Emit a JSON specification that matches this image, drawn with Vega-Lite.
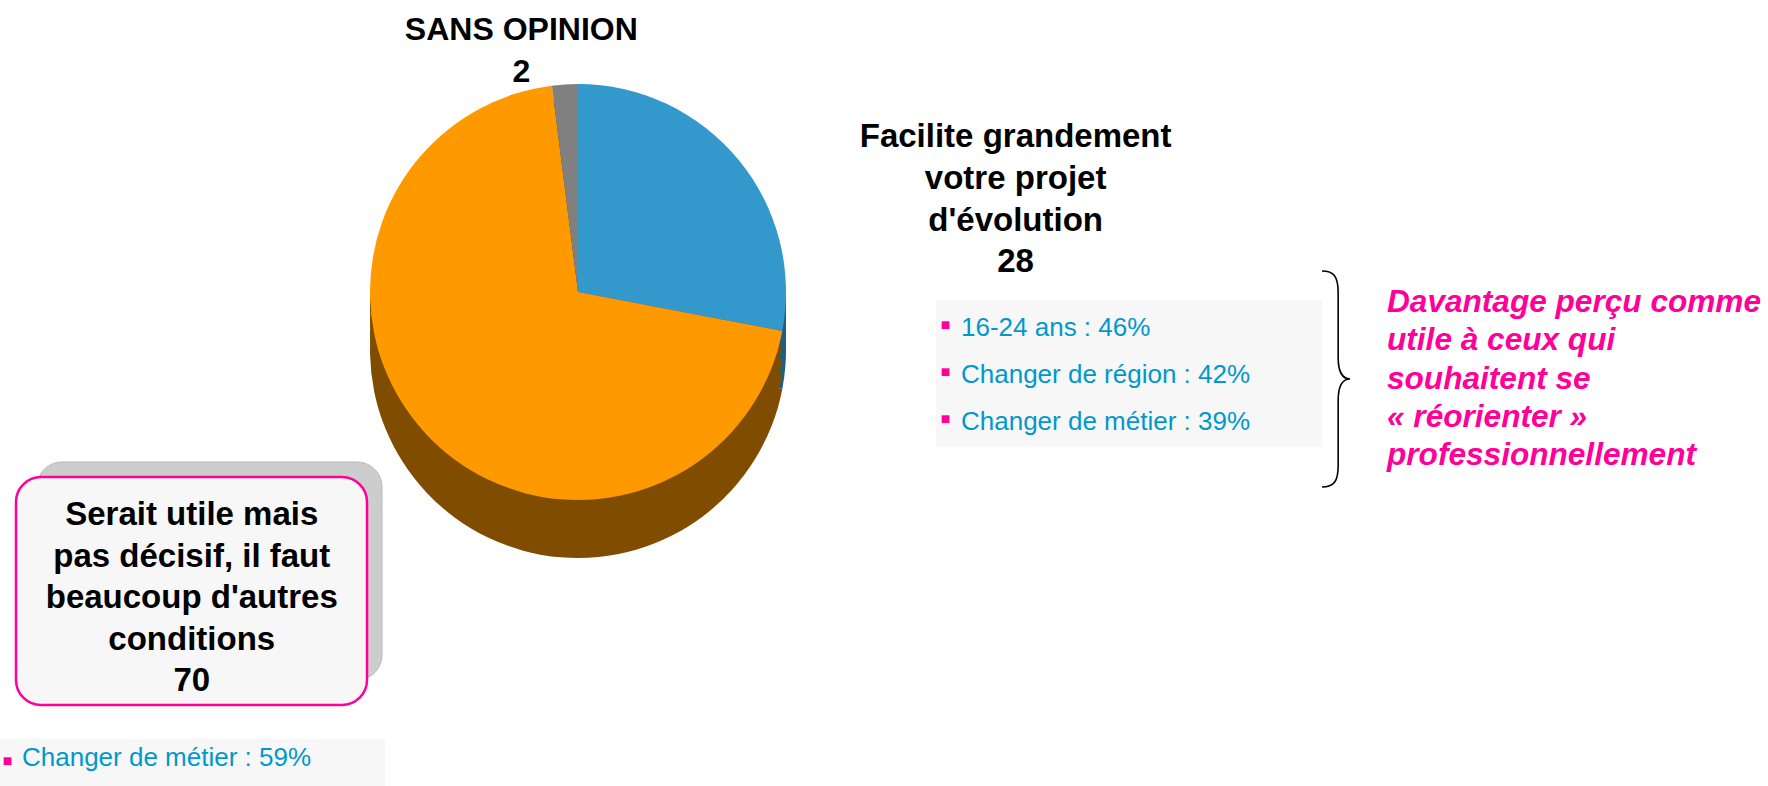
{
  "$schema": "https://vega.github.io/schema/vega-lite/v6.json",
  "width": 1156,
  "height": 584,
  "autosize": {"type": "none"},
  "padding": {"left": 0, "top": 0, "right": 612, "bottom": 202},
  "background": "white",
  "config": {"view": {"stroke": null}},
  "datasets": {
    "parts": [
      {"categorie": "Facilite grandement votre projet d'évolution", "libelle": "Facilite grandement\nvotre projet\nd'évolution", "valeur": 28, "ordre": 1},
      {"categorie": "Serait utile mais pas décisif, il faut beaucoup d'autres conditions", "libelle": "Serait utile mais\npas décisif, il faut\nbeaucoup d'autres\nconditions", "valeur": 70, "ordre": 2},
      {"categorie": "SANS OPINION", "libelle": "SANS OPINION", "valeur": 2, "ordre": 3}
    ]
  },
  "data": {"name": "parts"},
  "layer": [
    {
      "mark": {"type": "arc", "radius": 208, "yOffset": 58},
      "encoding": {
        "theta": {"field": "valeur", "type": "quantitative", "stack": true},
        "order": {"field": "ordre", "type": "quantitative"},
        "fill": {"field": "categorie", "type": "nominal", "legend": null,
          "scale": {"domain": ["Facilite grandement votre projet d'évolution", "Serait utile mais pas décisif, il faut beaucoup d'autres conditions", "SANS OPINION"], "range": ["#1E5F80", "#7F4C00", "#404040"]}}
      }
    },
    {
      "mark": {"type": "arc", "radius": 208, "yOffset": 43},
      "encoding": {
        "theta": {"field": "valeur", "type": "quantitative", "stack": true},
        "order": {"field": "ordre", "type": "quantitative"},
        "fill": {"field": "categorie", "type": "nominal", "legend": null}
      }
    },
    {
      "mark": {"type": "arc", "radius": 208, "yOffset": 29},
      "encoding": {
        "theta": {"field": "valeur", "type": "quantitative", "stack": true},
        "order": {"field": "ordre", "type": "quantitative"},
        "fill": {"field": "categorie", "type": "nominal", "legend": null}
      }
    },
    {
      "mark": {"type": "arc", "radius": 208, "yOffset": 14},
      "encoding": {
        "theta": {"field": "valeur", "type": "quantitative", "stack": true},
        "order": {"field": "ordre", "type": "quantitative"},
        "fill": {"field": "categorie", "type": "nominal", "legend": null}
      }
    },
    {
      "mark": {"type": "arc", "radius": 208},
      "encoding": {
        "theta": {"field": "valeur", "type": "quantitative", "stack": true},
        "order": {"field": "ordre", "type": "quantitative"},
        "color": {"field": "categorie", "type": "nominal", "legend": null,
          "scale": {"domain": ["Facilite grandement votre projet d'évolution", "Serait utile mais pas décisif, il faut beaucoup d'autres conditions", "SANS OPINION"], "range": ["#3399CC", "#FF9900", "#808080"]}}
      }
    },
    {
      "data": {"values": [{}]},
      "mark": {"type": "rect", "x": 37, "x2": 382, "y": 462, "y2": 680, "cornerRadius": 25, "fill": "#CDCDCD", "stroke": "#B8B8B8", "strokeWidth": 1}
    },
    {
      "data": {"values": [{}]},
      "mark": {"type": "rect", "x": 16, "x2": 367, "y": 477, "y2": 705, "cornerRadius": 25, "fill": "#F7F7F7", "stroke": "#FF0099", "strokeWidth": 2.5}
    },
    {
      "mark": {"type": "text", "radius": 250, "dx": 245, "dy": 14.5, "align": "center", "baseline": "alphabetic", "lineBreak": "\n", "lineHeight": 41.7, "font": "Liberation Sans", "fontSize": 33, "fontWeight": "bold", "color": "#000000"},
      "encoding": {
        "theta": {"field": "valeur", "type": "quantitative", "stack": true},
        "order": {"field": "ordre", "type": "quantitative"},
        "detail": {"field": "categorie", "type": "nominal"},
        "text": {"condition": {"test": "datum.ordre === 1", "field": "libelle"}, "value": ""}
      }
    },
    {
      "mark": {"type": "text", "radius": 250, "dx": 245, "dy": 139.5, "align": "center", "baseline": "alphabetic", "font": "Liberation Sans", "fontSize": 33, "fontWeight": "bold", "color": "#000000"},
      "encoding": {
        "theta": {"field": "valeur", "type": "quantitative", "stack": true},
        "order": {"field": "ordre", "type": "quantitative"},
        "detail": {"field": "categorie", "type": "nominal"},
        "text": {"condition": {"test": "datum.ordre === 1", "field": "valeur"}, "value": ""}
      }
    },
    {
      "mark": {"type": "text", "radius": 250, "dx": -204, "dy": 62, "align": "center", "baseline": "alphabetic", "lineBreak": "\n", "lineHeight": 41.5, "font": "Liberation Sans", "fontSize": 33, "fontWeight": "bold", "color": "#000000"},
      "encoding": {
        "theta": {"field": "valeur", "type": "quantitative", "stack": true},
        "order": {"field": "ordre", "type": "quantitative"},
        "detail": {"field": "categorie", "type": "nominal"},
        "text": {"condition": {"test": "datum.ordre === 2", "field": "libelle"}, "value": ""}
      }
    },
    {
      "mark": {"type": "text", "radius": 250, "dx": -204, "dy": 228, "align": "center", "baseline": "alphabetic", "font": "Liberation Sans", "fontSize": 33, "fontWeight": "bold", "color": "#000000"},
      "encoding": {
        "theta": {"field": "valeur", "type": "quantitative", "stack": true},
        "order": {"field": "ordre", "type": "quantitative"},
        "detail": {"field": "categorie", "type": "nominal"},
        "text": {"condition": {"test": "datum.ordre === 2", "field": "valeur"}, "value": ""}
      }
    },
    {
      "mark": {"type": "text", "radius": 250, "dx": -41, "dy": -2.5, "align": "center", "baseline": "alphabetic", "font": "Liberation Sans", "fontSize": 32, "fontWeight": "bold", "color": "#000000"},
      "encoding": {
        "theta": {"field": "valeur", "type": "quantitative", "stack": true},
        "order": {"field": "ordre", "type": "quantitative"},
        "detail": {"field": "categorie", "type": "nominal"},
        "text": {"condition": {"test": "datum.ordre === 3", "field": "libelle"}, "value": ""}
      }
    },
    {
      "mark": {"type": "text", "radius": 250, "dx": -41, "dy": 39.5, "align": "center", "baseline": "alphabetic", "font": "Liberation Sans", "fontSize": 32, "fontWeight": "bold", "color": "#000000"},
      "encoding": {
        "theta": {"field": "valeur", "type": "quantitative", "stack": true},
        "order": {"field": "ordre", "type": "quantitative"},
        "detail": {"field": "categorie", "type": "nominal"},
        "text": {"condition": {"test": "datum.ordre === 3", "field": "valeur"}, "value": ""}
      }
    },
    {
      "data": {"values": [{}]},
      "mark": {"type": "rect", "x": 936, "x2": 1322, "y": 300, "y2": 447, "fill": "#F7F7F7"}
    },
    {
      "data": {"values": [{}]},
      "mark": {"type": "rect", "x": 0, "x2": 385, "y": 739, "y2": 786, "fill": "#F7F7F7"}
    },
    {
      "data": {"values": [{"texte": "16-24 ans : 46%\nChanger de région : 42%\nChanger de métier : 39%"}]},
      "mark": {"type": "text", "x": 961, "y": 336, "align": "left", "baseline": "alphabetic", "lineBreak": "\n", "lineHeight": 47, "font": "Liberation Sans", "fontSize": 26, "color": "#0099CC"},
      "encoding": {"text": {"field": "texte", "type": "nominal"}}
    },
    {
      "data": {"values": [{"texte": "Changer de métier : 59%"}]},
      "mark": {"type": "text", "x": 22, "y": 766, "align": "left", "baseline": "alphabetic", "font": "Liberation Sans", "fontSize": 26, "color": "#0099CC"},
      "encoding": {"text": {"field": "texte", "type": "nominal"}}
    },
    {
      "data": {"values": [{"puce": "■\n■\n■"}]},
      "mark": {"type": "text", "x": 945.5, "y": 330, "align": "center", "baseline": "alphabetic", "lineBreak": "\n", "lineHeight": 47, "font": "Liberation Sans", "fontSize": 16, "color": "#FF0099"},
      "encoding": {"text": {"field": "puce", "type": "nominal"}}
    },
    {
      "data": {"values": [{"puce": "■"}]},
      "mark": {"type": "text", "x": 7.5, "y": 766, "align": "center", "baseline": "alphabetic", "font": "Liberation Sans", "fontSize": 16, "color": "#FF0099"},
      "encoding": {"text": {"field": "puce", "type": "nominal"}}
    },
    {
      "data": {"values": [{}]},
      "mark": {"type": "point", "x": 1336, "y": 379, "size": 46656, "filled": false, "stroke": "#000000", "strokeWidth": 1.6, "opacity": 1,
        "shape": "M -0.13 -1 C -0.02 -1 0.02 -0.95 0.02 -0.8 L 0.02 -0.2 C 0.02 -0.07 0.06 0 0.13 0 C 0.06 0 0.02 0.07 0.02 0.2 L 0.02 0.8 C 0.02 0.95 -0.02 1 -0.13 1"}
    },
    {
      "data": {"values": [{"texte": "Davantage perçu comme\nutile à ceux qui\nsouhaitent se\n« réorienter »\nprofessionnellement"}]},
      "mark": {"type": "text", "x": 1387, "y": 312, "align": "left", "baseline": "alphabetic", "lineBreak": "\n", "lineHeight": 38.3, "font": "Liberation Sans", "fontSize": 31.6, "fontWeight": "bold", "fontStyle": "italic", "color": "#FF0099"},
      "encoding": {"text": {"field": "texte", "type": "nominal"}}
    }
  ]
}
